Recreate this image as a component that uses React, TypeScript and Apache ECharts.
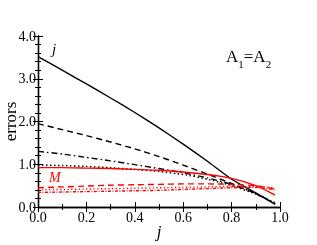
import React, { useEffect, useRef } from "react";
import * as echarts from "echarts";

const jValues = [0, 0.1, 0.2, 0.3, 0.4, 0.5, 0.6, 0.7, 0.8, 0.9, 0.98];
const blackSolid = [3.52, 3.2, 2.88, 2.55, 2.21, 1.85, 1.47, 1.07, 0.65, 0.33, 0.06];
const blackDashed = [1.95, 1.81, 1.67, 1.52, 1.36, 1.18, 0.98, 0.77, 0.55, 0.31, 0.07];
const blackDashDot = [1.3, 1.24, 1.16, 1.08, 0.99, 0.9, 0.8, 0.68, 0.53, 0.32, 0.08];
const blackDotted = [0.98, 0.97, 0.95, 0.92, 0.88, 0.83, 0.76, 0.65, 0.5, 0.3, 0.1];
const redSolid = [0.92, 0.92, 0.91, 0.9, 0.88, 0.86, 0.82, 0.76, 0.67, 0.5, 0.28];
const redDashed = [0.45, 0.47, 0.49, 0.51, 0.52, 0.53, 0.54, 0.54, 0.53, 0.5, 0.42];
const redDashDot = [0.34, 0.35, 0.36, 0.37, 0.38, 0.39, 0.41, 0.43, 0.45, 0.46, 0.4];
const redDotted = [0.4, 0.41, 0.42, 0.43, 0.44, 0.45, 0.46, 0.47, 0.48, 0.48, 0.45];

const xTicks = ["0.0", "0.2", "0.4", "0.6", "0.8", "1.0"];
const yTicks = ["0.0", "1.0", "2.0", "3.0", "4.0"];

const FONT = "'Liberation Serif', 'DejaVu Serif', serif";

function mk(name: string, vals: number[], color: string, type: any) {
  return {
    name,
    type: "line",
    data: jValues.map((x, i) => [x, vals[i]]),
    showSymbol: false,
    smooth: 0.2,
    lineStyle: { color, width: 1.4, type },
    xAxisIndex: 0,
    yAxisIndex: 0,
  };
}

export default function App() {
  const ref = useRef<HTMLDivElement>(null);
  useEffect(() => {
    if (!ref.current) return;
    const chart = echarts.init(ref.current, null, { renderer: "svg" });
    const axisLine = { show: true, lineStyle: { color: "#000", width: 1.3 } };
    const tick = { show: true, inside: true, length: 5, lineStyle: { color: "#000", width: 1 } };
    const minor = { show: true, splitNumber: 2, length: 3, lineStyle: { color: "#000", width: 1 } };
    const minorY = { show: true, splitNumber: 5, length: 3, lineStyle: { color: "#000", width: 1 } };
    chart.setOption({
      animation: false,
      grid: { left: 38, right: 37, top: 36, bottom: 38, outerBoundsMode: "none", containLabel: false },
      xAxis: [
        {
          type: "value",
          min: 0,
          max: 1,
          interval: 0.2,
          position: "bottom",
          axisLine,
          axisTick: tick,
          minorTick: minor,
          splitLine: { show: false },
          axisLabel: {
            color: "#000",
            fontFamily: FONT,
            fontSize: 14,
            margin: 3,
            formatter: (v: number) => xTicks[Math.round(v / 0.2)] ?? "",
          },
          name: "j",
          nameLocation: "middle",
          nameGap: 16,
          nameMoveOverlap: false,
          nameTextStyle: { color: "#000", fontFamily: FONT, fontSize: 17, fontStyle: "italic" },
        },
        {
          type: "value",
          min: 0,
          max: 1,
          interval: 0.2,
          position: "top",
          axisLine,
          axisTick: tick,
          minorTick: minor,
          splitLine: { show: false },
          axisLabel: { show: false },
        },
      ],
      yAxis: [
        {
          type: "value",
          min: 0,
          max: 4,
          interval: 1,
          position: "left",
          axisLine,
          axisTick: tick,
          minorTick: minorY,
          splitLine: { show: false },
          axisLabel: {
            color: "#000",
            fontFamily: FONT,
            fontSize: 14,
            margin: 2,
            formatter: (v: number) => yTicks[Math.round(v)] ?? "",
          },
          name: "errors",
          nameLocation: "middle",
          nameGap: 19,
          nameRotate: 90,
          nameMoveOverlap: false,
          nameTextStyle: { color: "#000", fontFamily: FONT, fontSize: 17 },
        },
        {
          type: "value",
          min: 0,
          max: 4,
          interval: 1,
          position: "right",
          axisLine,
          axisTick: tick,
          minorTick: minorY,
          splitLine: { show: false },
          axisLabel: { show: false },
        },
      ],
      series: [
        mk("j solid", blackSolid, "#000", "solid"),
        mk("j dashed", blackDashed, "#000", [6, 4]),
        mk("j dashdot", blackDashDot, "#000", [6, 3, 1.5, 3]),
        mk("j dotted", blackDotted, "#000", [1.5, 2.5]),
        mk("M solid", redSolid, "#ff0000", "solid"),
        mk("M dashed", redDashed, "#ff0000", [6, 4]),
        mk("M dotted", redDotted, "#ff0000", [1.2, 2.5]),
        mk("M dashdot", redDashDot, "#ff0000", [3, 1.5, 1, 1.5]),
      ],
      graphic: [
        {
          type: "text",
          left: 52,
          top: 41,
          style: { text: "j", font: `italic 15px ${FONT}`, fill: "#000" },
        },
        {
          type: "text",
          left: 49,
          top: 170,
          style: { text: "M", font: `italic 14px ${FONT}`, fill: "#ff0000" },
        },
        {
          type: "text",
          left: 226,
          top: 48,
          style: {
            text: "{a|A}{s|1}{a|=A}{s|2}",
            rich: {
              a: { fontFamily: FONT, fontSize: 17, fill: "#000", verticalAlign: "bottom", lineHeight: 20 },
              s: { fontFamily: FONT, fontSize: 11, fill: "#000", verticalAlign: "bottom", lineHeight: 14, padding: [0, 0, -4, 0] },
            },
          },
        },
      ],
    });
    return () => chart.dispose();
  }, []);
  return (
    <div
      ref={ref}
      style={{ position: "fixed", left: 0, top: 0, width: 317, height: 245 }}
    />
  );
}
